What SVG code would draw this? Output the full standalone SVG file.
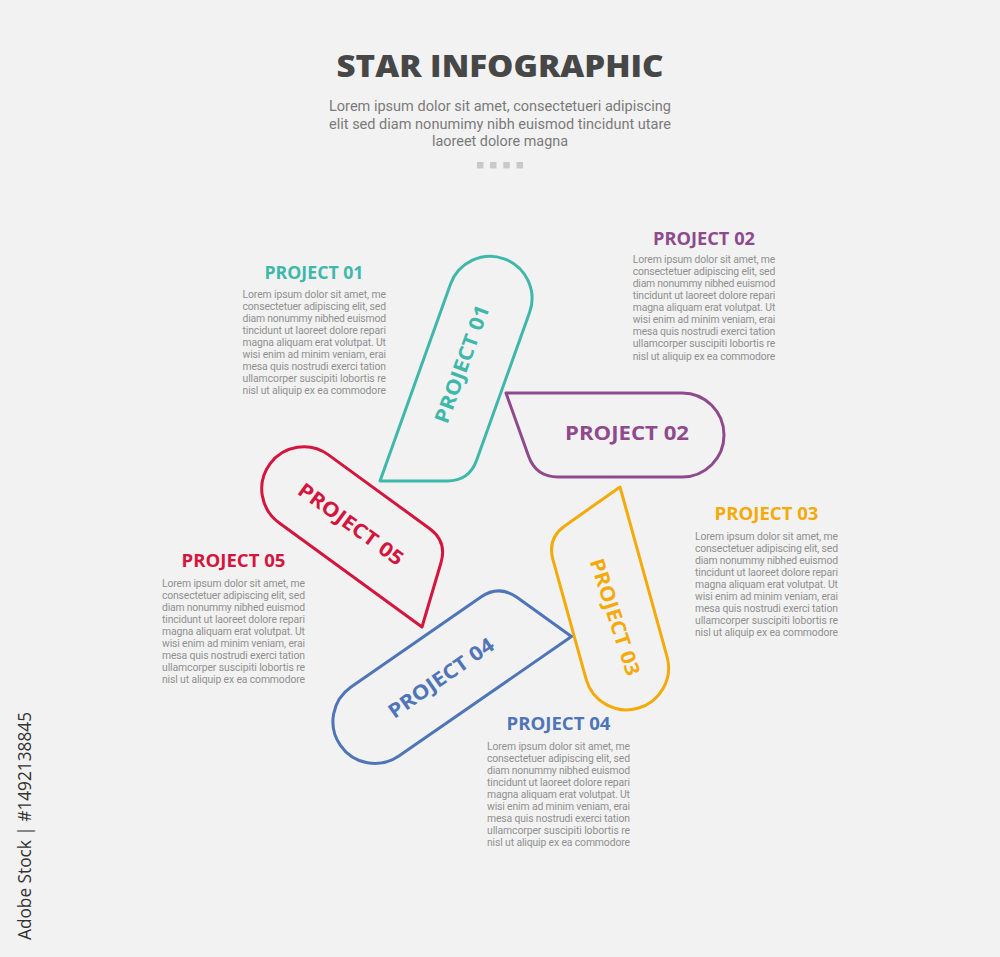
<svg xmlns="http://www.w3.org/2000/svg" width="1000" height="957" viewBox="0 0 1000 957">
<style>
.bg{fill:#f2f2f2}
.shape{fill:none;stroke-width:3;stroke-linejoin:round}
.lbl{font-family:"Open Sans","Liberation Sans",sans-serif;font-weight:700;font-size:20px;text-anchor:middle}
.head{font-family:"Open Sans","Liberation Sans",sans-serif;font-weight:700;font-size:17px;text-anchor:middle}
.body{font-family:Roboto,"Liberation Sans",sans-serif;font-size:10.4px;fill:#909090}
.title{font-family:"Open Sans","Liberation Sans",sans-serif;font-weight:800;font-size:30px;fill:#474747;text-anchor:middle}
.sub{font-family:Roboto,"Liberation Sans",sans-serif;font-size:14.5px;fill:#7a7a7a;text-anchor:middle}
.dot{fill:#c9c9c9}
.c1{stroke:#3fb8aa;fill:#3fb8aa}
.c2{stroke:#8e4a8c;fill:#8e4a8c}
.c3{stroke:#f4aa0a;fill:#f4aa0a}
.c4{stroke:#4f75b8;fill:#4f75b8}
.c5{stroke:#d4163f;fill:#d4163f}
text.c1,text.c2,text.c3,text.c4,text.c5{stroke:none}
</style>
<rect class="bg" x="0" y="0" width="1000" height="957"/>

<g id="header">
<text class="title" x="500" y="77" textLength="327" lengthAdjust="spacingAndGlyphs">STAR INFOGRAPHIC</text>
<text class="sub" x="500" y="111" textLength="342" lengthAdjust="spacingAndGlyphs">Lorem ipsum dolor sit amet, consectetueri adipiscing</text>
<text class="sub" x="500" y="128.5" textLength="342" lengthAdjust="spacingAndGlyphs">elit sed diam nonumimy nibh euismod tincidunt utare</text>
<text class="sub" x="500" y="146" textLength="136" lengthAdjust="spacingAndGlyphs">laoreet dolore magna</text>
<rect class="dot" x="477" y="162" width="6.5" height="6.5"/>
<rect class="dot" x="490" y="162" width="6.5" height="6.5"/>
<rect class="dot" x="503.3" y="162" width="6.5" height="6.5"/>
<rect class="dot" x="516.5" y="162" width="6.5" height="6.5"/>
</g>

<g id="connectors"></g>

<g id="project01">
<path class="shape c1" style="fill:none" transform="translate(380,481) rotate(289.7)" d="M0,0 H209 A42,42 0 0 1 209,84 H52 Q30,84 22.6,63.3 Z"/>
<text class="lbl c1" transform="translate(462,364) rotate(-70)" x="0" y="7" textLength="124" lengthAdjust="spacingAndGlyphs">PROJECT 01</text>
<text class="head c1" x="314" y="279" textLength="99" lengthAdjust="spacingAndGlyphs">PROJECT 01</text>
<g class="body">
<text x="242.5" y="298.3" textLength="143.5" lengthAdjust="spacing">Lorem ipsum dolor sit amet, me</text>
<text x="242.5" y="310.3" textLength="143.5" lengthAdjust="spacing">consectetuer adipiscing elit, sed</text>
<text x="242.5" y="322.3" textLength="143.5" lengthAdjust="spacing">diam nonummy nibhed euismod</text>
<text x="242.5" y="334.3" textLength="143.5" lengthAdjust="spacing">tincidunt ut laoreet dolore repari</text>
<text x="242.5" y="346.3" textLength="143.5" lengthAdjust="spacing">magna aliquam erat volutpat. Ut</text>
<text x="242.5" y="358.3" textLength="143.5" lengthAdjust="spacing">wisi enim ad minim veniam, erai</text>
<text x="242.5" y="370.3" textLength="143.5" lengthAdjust="spacing">mesa quis nostrudi exerci tation</text>
<text x="242.5" y="382.3" textLength="143.5" lengthAdjust="spacing">ullamcorper suscipiti lobortis  re</text>
<text x="242.5" y="394.3" textLength="143.5" lengthAdjust="spacing">nisl ut aliquip ex ea commodore</text>
</g>
</g>

<g id="project02">
<path class="shape c2" style="fill:none" transform="translate(506,393)" d="M0,0 H176 A42,42 0 0 1 176,84 H52 Q30,84 22.6,63.3 Z"/>
<text class="lbl c2" transform="translate(627,433)" x="0" y="7" textLength="124" lengthAdjust="spacingAndGlyphs">PROJECT 02</text>
<text class="head c2" x="704" y="245" textLength="102" lengthAdjust="spacingAndGlyphs">PROJECT 02</text>
<g class="body">
<text x="632.7" y="262.7" textLength="142.6" lengthAdjust="spacing">Lorem ipsum dolor sit amet, me</text>
<text x="632.7" y="274.8" textLength="142.6" lengthAdjust="spacing">consectetuer adipiscing elit, sed</text>
<text x="632.7" y="286.9" textLength="142.6" lengthAdjust="spacing">diam nonummy nibhed euismod</text>
<text x="632.7" y="299" textLength="142.6" lengthAdjust="spacing">tincidunt ut laoreet dolore repari</text>
<text x="632.7" y="311.1" textLength="142.6" lengthAdjust="spacing">magna aliquam erat volutpat. Ut</text>
<text x="632.7" y="323.2" textLength="142.6" lengthAdjust="spacing">wisi enim ad minim veniam, erai</text>
<text x="632.7" y="335.3" textLength="142.6" lengthAdjust="spacing">mesa quis nostrudi exerci tation</text>
<text x="632.7" y="347.4" textLength="142.6" lengthAdjust="spacing">ullamcorper suscipiti lobortis  re</text>
<text x="632.7" y="359.5" textLength="142.6" lengthAdjust="spacing">nisl ut aliquip ex ea commodore</text>
</g>
</g>

<g id="project03">
<path class="shape c3" style="fill:none" transform="translate(620,487) rotate(74.5)" d="M0,0 H176 A42,42 0 0 1 176,84 H52 Q30,84 22.6,63.3 Z"/>
<text class="lbl c3" transform="translate(615,617) rotate(72)" x="0" y="7" textLength="122" lengthAdjust="spacingAndGlyphs">PROJECT 03</text>
<text class="head c3" x="766.5" y="520" textLength="104" lengthAdjust="spacingAndGlyphs">PROJECT 03</text>
<g class="body">
<text x="695" y="539.5" textLength="143" lengthAdjust="spacing">Lorem ipsum dolor sit amet, me</text>
<text x="695" y="551.6" textLength="143" lengthAdjust="spacing">consectetuer adipiscing elit, sed</text>
<text x="695" y="563.7" textLength="143" lengthAdjust="spacing">diam nonummy nibhed euismod</text>
<text x="695" y="575.8" textLength="143" lengthAdjust="spacing">tincidunt ut laoreet dolore repari</text>
<text x="695" y="587.9" textLength="143" lengthAdjust="spacing">magna aliquam erat volutpat. Ut</text>
<text x="695" y="600" textLength="143" lengthAdjust="spacing">wisi enim ad minim veniam, erai</text>
<text x="695" y="612.1" textLength="143" lengthAdjust="spacing">mesa quis nostrudi exerci tation</text>
<text x="695" y="624.2" textLength="143" lengthAdjust="spacing">ullamcorper suscipiti lobortis  re</text>
<text x="695" y="636.3" textLength="143" lengthAdjust="spacing">nisl ut aliquip ex ea commodore</text>
</g>
</g>

<g id="project04">
<path class="shape c4" style="fill:none" transform="translate(571.5,636.5) rotate(145.3)" d="M0,0 H210 A42,42 0 0 1 210,84 H52 Q30,84 22.6,63.3 Z"/>
<text class="lbl c4" transform="translate(441,678) rotate(-35)" x="0" y="7" textLength="124" lengthAdjust="spacingAndGlyphs">PROJECT 04</text>
<text class="head c4" x="558.5" y="730" textLength="104" lengthAdjust="spacingAndGlyphs">PROJECT 04</text>
<g class="body">
<text x="487" y="749.5" textLength="143" lengthAdjust="spacing">Lorem ipsum dolor sit amet, me</text>
<text x="487" y="761.6" textLength="143" lengthAdjust="spacing">consectetuer adipiscing elit, sed</text>
<text x="487" y="773.7" textLength="143" lengthAdjust="spacing">diam nonummy nibhed euismod</text>
<text x="487" y="785.8" textLength="143" lengthAdjust="spacing">tincidunt ut laoreet dolore repari</text>
<text x="487" y="797.9" textLength="143" lengthAdjust="spacing">magna aliquam erat volutpat. Ut</text>
<text x="487" y="810" textLength="143" lengthAdjust="spacing">wisi enim ad minim veniam, erai</text>
<text x="487" y="822.1" textLength="143" lengthAdjust="spacing">mesa quis nostrudi exerci tation</text>
<text x="487" y="834.2" textLength="143" lengthAdjust="spacing">ullamcorper suscipiti lobortis  re</text>
<text x="487" y="846.3" textLength="143" lengthAdjust="spacing">nisl ut aliquip ex ea commodore</text>
</g>
</g>

<g id="project05">
<path class="shape c5" style="fill:none" transform="translate(422,627) rotate(216.1)" d="M0,0 H177 A42,42 0 0 1 177,84 H52 Q30,84 22.6,63.3 Z"/>
<text class="lbl c5" transform="translate(351,524) rotate(36)" x="0" y="7" textLength="125" lengthAdjust="spacingAndGlyphs">PROJECT 05</text>
<text class="head c5" x="233.5" y="567" textLength="104" lengthAdjust="spacingAndGlyphs">PROJECT 05</text>
<g class="body">
<text x="162" y="586.5" textLength="143" lengthAdjust="spacing">Lorem ipsum dolor sit amet, me</text>
<text x="162" y="598.6" textLength="143" lengthAdjust="spacing">consectetuer adipiscing elit, sed</text>
<text x="162" y="610.7" textLength="143" lengthAdjust="spacing">diam nonummy nibhed euismod</text>
<text x="162" y="622.8" textLength="143" lengthAdjust="spacing">tincidunt ut laoreet dolore repari</text>
<text x="162" y="634.9" textLength="143" lengthAdjust="spacing">magna aliquam erat volutpat. Ut</text>
<text x="162" y="647" textLength="143" lengthAdjust="spacing">wisi enim ad minim veniam, erai</text>
<text x="162" y="659.1" textLength="143" lengthAdjust="spacing">mesa quis nostrudi exerci tation</text>
<text x="162" y="671.2" textLength="143" lengthAdjust="spacing">ullamcorper suscipiti lobortis  re</text>
<text x="162" y="683.3" textLength="143" lengthAdjust="spacing">nisl ut aliquip ex ea commodore</text>
</g>
</g>

<g id="watermark">
<text transform="translate(31,940) rotate(-90)" x="0" y="0" style="font-family:'Open Sans','Liberation Sans',sans-serif;font-size:18px;font-weight:500;fill:#333" textLength="228" lengthAdjust="spacingAndGlyphs">Adobe Stock | #1492138845</text>
</g>
</svg>
